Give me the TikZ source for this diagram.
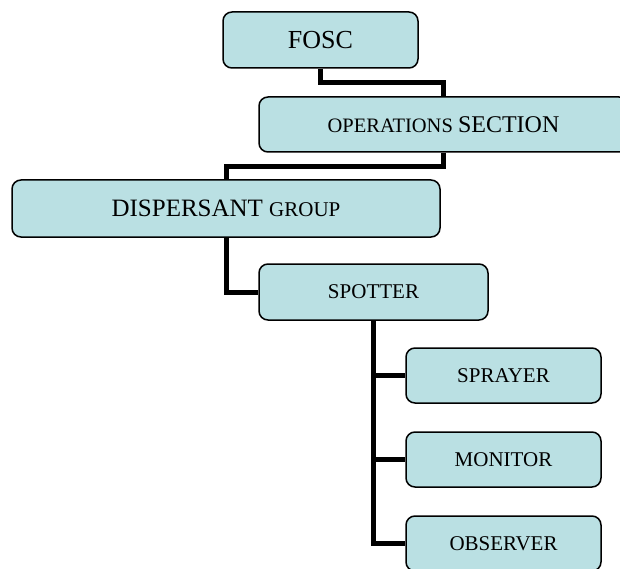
\documentclass[tikz,border=0pt]{standalone}
\usepackage{fontspec}
\setmainfont{Liberation Serif}
\usetikzlibrary{calc}
\definecolor{boxfill}{RGB}{186,224,227}
\newcommand{\fs}[1]{\fontsize{#1}{#1}\selectfont}
\begin{document}
\begin{tikzpicture}[x=1pt,y=-1pt,
  orgbox/.style={draw=black, line width=1.5pt, fill=boxfill, rounded corners=9pt,
    inner sep=0pt, align=center, text=black},
  link/.style={line width=5pt, line join=miter, line cap=butt}]
\useasboundingbox (0,0) rectangle (620,569);

% boxes of the chart
\node[orgbox, minimum width=195pt, minimum height=56pt] (fosc) at (320.5,40) {\fs{26}FOSC};
\node[orgbox, minimum width=369pt, minimum height=55pt] (ops) at (443.5,124.5)
  {\fs{20.5}OPERATIONS \fs{24}SECTION};
\node[orgbox, minimum width=428pt, minimum height=57pt] (disp) at (226,208.5)
  {\fs{25}DISPERSANT \fs{21}GROUP};
\node[orgbox, minimum width=229pt, minimum height=56pt] (spot) at (373.5,292)
  {\fs{21}SPOTTER};
\node[orgbox, minimum width=195pt, minimum height=55pt] (spray) at (503.5,375.5)
  {\fs{21}SPRAYER};
\node[orgbox, minimum width=195pt, minimum height=55pt] (mon) at (503.5,459.5)
  {\fs{21}MONITOR};
\node[orgbox, minimum width=195pt, minimum height=55pt] (obs) at (503.5,543.5)
  {\fs{21}OBSERVER};

% connectors
\draw[link] (fosc.south) -- ++(0,14) -| (ops.north);
\draw[link] (ops.south) -- ++(0,14) -| (disp.north);
\draw[link] (disp.south) |- (spot.west);
\draw[link] (spot.south) |- (spray.west);
\draw[link] (spot.south) |- (mon.west);
\draw[link] (spot.south) |- (obs.west);
\end{tikzpicture}
\end{document}
